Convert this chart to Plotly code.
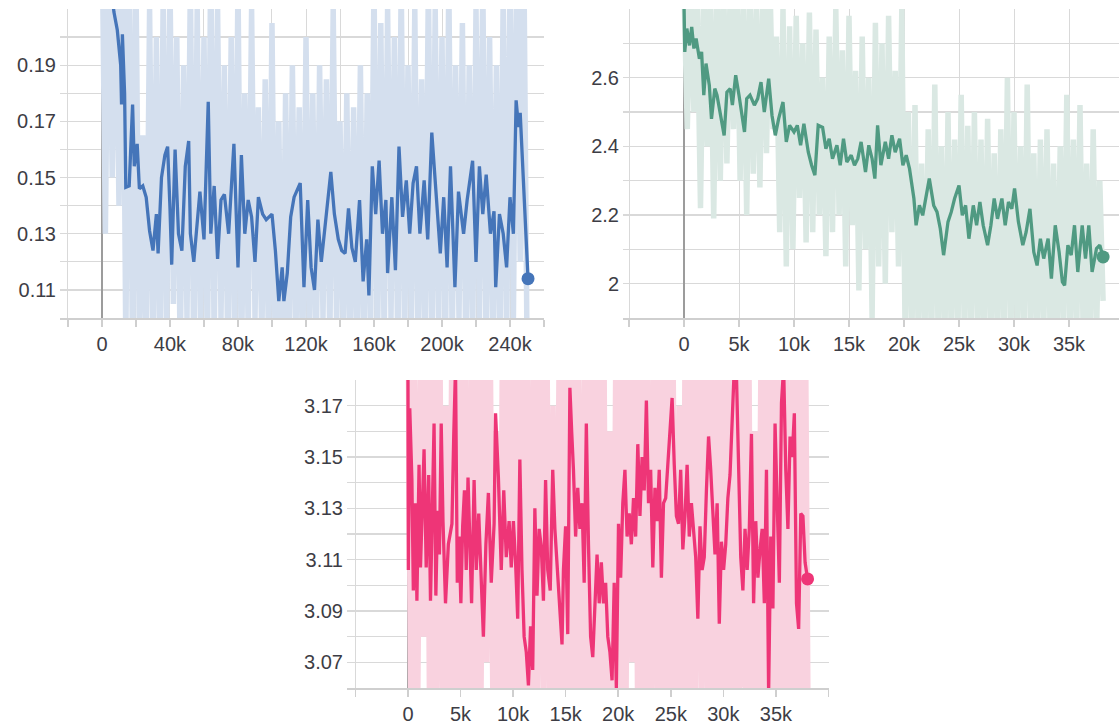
import plotly.graph_objects as go

# ---------------- Top-left (blue) ----------------
tl_raw_steps = [0, 2000, 4000, 6000, 8000, 10000, 12000, 14000, 16000, 18000,
                20000, 22000, 24000, 26000, 28000, 30000, 32000, 34000, 36000, 38000,
                40000, 42000, 44000, 46000, 48000, 50000, 52000, 54000, 56000, 58000,
                60000, 62000, 64000, 66000, 68000, 70000, 72000, 74000, 76000, 78000,
                80000, 82000, 84000, 86000, 88000, 90000, 92000, 94000, 96000, 98000,
                100000, 102000, 104000, 106000, 108000, 110000, 112000, 114000, 116000, 118000,
                120000, 122000, 124000, 126000, 128000, 130000, 132000, 134000, 136000, 138000,
                140000, 142000, 144000, 146000, 148000, 150000, 152000, 154000, 156000, 158000,
                160000, 162000, 164000, 166000, 168000, 170000, 172000, 174000, 176000, 178000,
                180000, 182000, 184000, 186000, 188000, 190000, 192000, 194000, 196000, 198000,
                200000, 202000, 204000, 206000, 208000, 210000, 212000, 214000, 216000, 218000,
                220000, 222000, 224000, 226000, 228000, 230000, 232000, 234000, 236000, 238000,
                240000, 242000, 244000, 246000, 248000, 250000, 252000]
tl_raw_values = [0.24, 0.13, 0.25, 0.15, 0.23, 0.14, 0.26, 0.09, 0.24, 0.08,
                 0.22, 0.09, 0.165, 0.085, 0.21, 0.09, 0.20, 0.08, 0.215, 0.09,
                 0.22, 0.105, 0.20, 0.085, 0.19, 0.10, 0.22, 0.08, 0.21, 0.095,
                 0.20, 0.085, 0.23, 0.09, 0.21, 0.10, 0.19, 0.085, 0.20, 0.09,
                 0.22, 0.08, 0.18, 0.095, 0.21, 0.10, 0.175, 0.09, 0.185, 0.085,
                 0.205, 0.08, 0.17, 0.075, 0.18, 0.085, 0.19, 0.09, 0.175, 0.08,
                 0.20, 0.09, 0.18, 0.085, 0.19, 0.10, 0.185, 0.09, 0.21, 0.095,
                 0.17, 0.09, 0.18, 0.085, 0.175, 0.09, 0.19, 0.08, 0.18, 0.095,
                 0.22, 0.085, 0.205, 0.09, 0.21, 0.10, 0.20, 0.085, 0.22, 0.09,
                 0.19, 0.095, 0.21, 0.085, 0.185, 0.09, 0.22, 0.08, 0.21, 0.095,
                 0.20, 0.085, 0.22, 0.09, 0.19, 0.10, 0.205, 0.085, 0.19, 0.09,
                 0.21, 0.095, 0.22, 0.085, 0.20, 0.09, 0.19, 0.085, 0.215, 0.09,
                 0.22, 0.10, 0.23, 0.12, 0.24, 0.09, 0.095]
tl_steps = [0, 4000, 7000, 9000, 10000, 11000, 11500, 12000, 13300, 14000,
            16000, 18000, 19000, 20700, 22000, 24000, 26000, 28000, 30000, 32000,
            33000, 35000, 37000, 38600, 40000, 41000, 43000, 45000, 47000, 49000,
            51000, 52000, 54000, 57600, 60000, 62500, 64000, 66000, 68000, 70000,
            72000, 74500, 77600, 80000, 82000, 84000, 86000, 88000, 90000, 92000,
            94500, 96600, 100000, 102000, 104000, 106000, 107000, 109000, 111000, 113000,
            116600, 118800, 121000, 123000, 125000, 127000, 129000, 131000, 134600, 136700,
            139000, 141000, 143000, 145000, 147000, 149000, 151500, 153600, 155700, 157000,
            159000, 161000, 163000, 165000, 167000, 168000, 170500, 172600, 174700, 176800,
            179000, 181000, 183000, 185000, 187000, 189500, 191600, 194000, 197000, 199000,
            201000, 203000, 205000, 207600, 209700, 212700, 214800, 218000, 220000, 222000,
            224000, 226000, 228500, 230600, 231600, 233800, 236000, 238000, 240000, 242000,
            243600, 245000, 246000, 247600, 250600]
tl_values = [0.25, 0.228, 0.209, 0.2025, 0.195, 0.19, 0.176, 0.201, 0.18, 0.1465,
             0.147, 0.176, 0.154, 0.162, 0.146, 0.147, 0.143, 0.131, 0.124, 0.137,
             0.123, 0.15, 0.158, 0.161, 0.139, 0.119, 0.16, 0.13, 0.124, 0.154,
             0.163, 0.13, 0.12, 0.145, 0.128, 0.177, 0.13, 0.147, 0.121, 0.142,
             0.144, 0.13, 0.162, 0.118, 0.158, 0.13, 0.142, 0.136, 0.12, 0.143,
             0.137, 0.135, 0.137, 0.124, 0.106, 0.118, 0.106, 0.116, 0.136, 0.143,
             0.148, 0.111, 0.142, 0.118, 0.11, 0.135, 0.12, 0.131, 0.152, 0.137,
             0.128, 0.124, 0.123, 0.139, 0.125, 0.12, 0.142, 0.113, 0.128, 0.108,
             0.154, 0.137, 0.156, 0.13, 0.142, 0.116, 0.143, 0.117, 0.161, 0.136,
             0.149, 0.13, 0.148, 0.154, 0.13, 0.149, 0.128, 0.166, 0.139, 0.123,
             0.143, 0.118, 0.154, 0.111, 0.145, 0.13, 0.142, 0.156, 0.12, 0.154,
             0.137, 0.151, 0.13, 0.138, 0.111, 0.137, 0.13, 0.118, 0.143, 0.13,
             0.1775, 0.168, 0.173, 0.154, 0.114]

# ---------------- Top-right (green) and bottom (pink) raw steps ----------------
raw_steps_38k = [0, 300, 600, 900, 1200, 1500, 1800, 2100, 2400, 2700,
                 3000, 3300, 3600, 3900, 4200, 4500, 4800, 5100, 5400, 5700,
                 6000, 6300, 6600, 6900, 7200, 7500, 7800, 8100, 8400, 8700,
                 9000, 9300, 9600, 9900, 10200, 10500, 10800, 11100, 11400, 11700,
                 12000, 12300, 12600, 12900, 13200, 13500, 13800, 14100, 14400, 14700,
                 15000, 15300, 15600, 15900, 16200, 16500, 16800, 17100, 17400, 17700,
                 18000, 18300, 18600, 18900, 19200, 19500, 19800, 20100, 20400, 20700,
                 21000, 21300, 21600, 21900, 22200, 22500, 22800, 23100, 23400, 23700,
                 24000, 24300, 24600, 24900, 25200, 25500, 25800, 26100, 26400, 26700,
                 27000, 27300, 27600, 27900, 28200, 28500, 28800, 29100, 29400, 29700,
                 30000, 30300, 30600, 30900, 31200, 31500, 31800, 32100, 32400, 32700,
                 33000, 33300, 33600, 33900, 34200, 34500, 34800, 35100, 35400, 35700,
                 36000, 36300, 36600, 36900, 37200, 37500, 37800, 38100]

tr_raw_values = [2.85, 2.45, 2.9, 2.5, 2.82, 2.22, 2.9, 2.4, 2.85, 2.19,
                 2.9, 2.3, 2.88, 2.35, 2.85, 2.45, 2.9, 2.3, 2.85, 2.2,
                 2.9, 2.32, 2.82, 2.28, 2.88, 2.38, 2.9, 2.45, 2.72, 2.15,
                 2.8, 2.05, 2.75, 2.1, 2.78, 2.25, 2.7, 2.12, 2.79, 2.15,
                 2.74, 2.2, 2.6, 2.08, 2.72, 2.15, 2.8, 2.2, 2.68, 2.05,
                 2.78, 2.17, 2.62, 1.98, 2.72, 2.1, 2.6, 1.9, 2.76, 2.05,
                 2.7, 2.0, 2.78, 2.15, 2.62, 2.05, 2.8, 1.85, 2.5, 1.8,
                 2.52, 1.82, 2.35, 1.85, 2.45, 1.78, 2.58, 1.85, 2.4, 1.8,
                 2.5, 1.82, 2.42, 1.85, 2.55, 1.8, 2.46, 1.85, 2.5, 1.82,
                 2.42, 1.8, 2.48, 1.85, 2.38, 1.8, 2.45, 1.85, 2.6, 1.8,
                 2.5, 1.86, 2.4, 1.8, 2.58, 1.85, 2.38, 1.8, 2.42, 1.85,
                 2.45, 1.82, 2.35, 1.8, 2.4, 1.85, 2.55, 1.8, 2.42, 1.85,
                 2.52, 1.82, 2.35, 1.8, 2.45, 1.85, 2.3, 1.95]
tr_steps = [0, 70, 260, 500, 700, 900, 1100, 1400, 1600, 1800,
            2000, 2300, 2500, 2800, 3000, 3300, 3650, 3900, 4200, 4400,
            4700, 5000, 5300, 5500, 5700, 6000, 6400, 6700, 7000, 7300,
            7700, 8000, 8300, 8600, 9000, 9300, 9600, 10000, 10300, 10600,
            10900, 11300, 11600, 11900, 12200, 12600, 12900, 13200, 13500, 13900,
            14200, 14500, 14800, 15200, 15500, 15800, 16100, 16500, 16800, 17100,
            17350, 17600, 17900, 18300, 18600, 18900, 19200, 19600, 19900, 20200,
            20500, 20900, 21100, 21400, 21700, 22000, 22300, 22700, 23000, 23300,
            23600, 24000, 24300, 24600, 25000, 25300, 25600, 25900, 26300, 26600,
            26900, 27200, 27600, 27900, 28200, 28500, 28900, 29200, 29500, 29800,
            30050, 30400, 30800, 31100, 31450, 31800, 32100, 32400, 32700, 33100,
            33400, 33750, 34100, 34400, 34600, 34900, 35200, 35500, 35800, 36200,
            36500, 36800, 37100, 37500, 37800, 38100]
tr_values = [2.82, 2.675, 2.743, 2.694, 2.748, 2.685, 2.714, 2.655, 2.675, 2.549,
             2.641, 2.578, 2.48, 2.568, 2.549, 2.49, 2.432, 2.558, 2.568, 2.52,
             2.607, 2.549, 2.49, 2.442, 2.539, 2.549, 2.52, 2.539, 2.587, 2.5,
             2.597, 2.49, 2.432, 2.48, 2.529, 2.413, 2.461, 2.442, 2.461, 2.403,
             2.466, 2.383, 2.345, 2.316, 2.461, 2.455, 2.393, 2.422, 2.364, 2.403,
             2.345, 2.422, 2.354, 2.374, 2.345, 2.364, 2.413, 2.325, 2.403, 2.364,
             2.306, 2.461, 2.345, 2.413, 2.364, 2.432, 2.383, 2.422, 2.345, 2.374,
             2.335, 2.248, 2.17, 2.228, 2.199, 2.248, 2.306, 2.228, 2.209, 2.16,
             2.083, 2.18, 2.209, 2.248, 2.286, 2.199, 2.228, 2.131, 2.228, 2.17,
             2.238, 2.17, 2.112, 2.17, 2.248, 2.189, 2.248, 2.17, 2.238, 2.218,
             2.277, 2.18, 2.112, 2.15, 2.218, 2.092, 2.053, 2.131, 2.073, 2.131,
             2.015, 2.17, 2.092, 2.005, 1.995, 2.112, 2.083, 2.17, 2.034, 2.17,
             2.073, 2.17, 2.034, 2.102, 2.112, 2.078]

# ---------------- Bottom (pink) ----------------
b_raw_values = [3.21, 3.03, 3.2, 3.04, 3.19, 3.08, 3.21, 3.02, 3.2, 3.05,
                3.22, 3.03, 3.17, 3.04, 3.21, 3.03, 3.2, 3.05, 3.21, 3.02,
                3.19, 3.04, 3.22, 3.03, 3.2, 3.07, 3.21, 3.04, 3.16, 3.03,
                3.2, 3.02, 3.21, 3.05, 3.2, 3.03, 3.22, 3.04, 3.19, 3.02,
                3.21, 3.03, 3.2, 3.06, 3.21, 3.02, 3.17, 3.04, 3.2, 3.03,
                3.22, 3.02, 3.21, 3.04, 3.2, 3.03, 3.19, 3.05, 3.21, 3.02,
                3.2, 3.04, 3.22, 3.03, 3.16, 3.02, 3.21, 3.04, 3.2, 3.03,
                3.21, 3.07, 3.2, 3.02, 3.22, 3.04, 3.19, 3.03, 3.21, 3.05,
                3.2, 3.02, 3.21, 3.04, 3.2, 3.03, 3.17, 3.02, 3.22, 3.04,
                3.2, 3.03, 3.21, 3.06, 3.2, 3.02, 3.21, 3.04, 3.19, 3.03,
                3.22, 3.02, 3.2, 3.04, 3.21, 3.03, 3.2, 3.05, 3.21, 3.02,
                3.16, 3.04, 3.2, 3.03, 3.22, 3.02, 3.21, 3.04, 3.2, 3.03,
                3.19, 3.02, 3.21, 3.04, 3.2, 3.03, 3.21, 3.02]
b_steps = [0, 34, 170, 374, 510, 714, 850, 1054, 1190, 1394,
           1530, 1734, 1972, 2142, 2312, 2482, 2652, 2822, 2992, 3162,
           3332, 3570, 3842, 4182, 4352, 4522, 4692, 4862, 5032, 5202,
           5372, 5542, 5712, 5882, 6052, 6290, 6494, 6732, 6970, 7174,
           7412, 7650, 7922, 8194, 8330, 8602, 8874, 9112, 9350, 9622,
           9826, 10030, 10234, 10438, 10642, 10846, 11050, 11254, 11458, 11662,
           11866, 12070, 12274, 12478, 12682, 12886, 13090, 13294, 13532, 13770,
           13974, 14212, 14450, 14654, 14790, 14994, 15198, 15402, 15572, 15742,
           15946, 16150, 16354, 16558, 16762, 16966, 17170, 17374, 17578, 17782,
           17986, 18190, 18394, 18598, 18802, 19006, 19210, 19414, 19618, 19822,
           20026, 20230, 20434, 20638, 20842, 21046, 21250, 21454, 21658, 21862,
           22066, 22270, 22474, 22678, 22882, 23086, 23290, 23494, 23698, 23902,
           24106, 24310, 24514, 24718, 24922, 25126, 25330, 25534, 25738, 25942,
           26146, 26350, 26554, 26758, 26962, 27166, 27370, 27574, 27778, 27982,
           28186, 28390, 28594, 28798, 29002, 29206, 29410, 29614, 29818, 30022,
           30226, 30430, 30634, 30838, 31042, 31246, 31450, 31654, 31858, 32062,
           32266, 32470, 32674, 32878, 33082, 33286, 33490, 33694, 33898, 34102,
           34306, 34510, 34714, 34918, 35122, 35326, 35530, 35734, 35938, 36142,
           36346, 36550, 36754, 36958, 37162, 37366, 37570, 37774, 38012]
b_values = [3.185, 3.106, 3.169, 3.141, 3.098, 3.132, 3.094, 3.147, 3.107, 3.141,
            3.153, 3.107, 3.143, 3.094, 3.132, 3.163, 3.096, 3.129, 3.112, 3.163,
            3.125, 3.093, 3.116, 3.124, 3.158, 3.185, 3.101, 3.119, 3.093, 3.123,
            3.137, 3.106, 3.142, 3.119, 3.093, 3.141, 3.106, 3.128, 3.098, 3.08,
            3.116, 3.136, 3.101, 3.124, 3.167, 3.142, 3.106, 3.137, 3.111, 3.125,
            3.107, 3.125, 3.109, 3.087, 3.149, 3.106, 3.08, 3.074, 3.061, 3.084,
            3.067, 3.13, 3.096, 3.122, 3.115, 3.094, 3.141, 3.106, 3.098, 3.145,
            3.122, 3.106, 3.093, 3.077, 3.106, 3.123, 3.081, 3.177, 3.16, 3.145,
            3.119, 3.138, 3.122, 3.132, 3.101, 3.163, 3.116, 3.08, 3.072, 3.093,
            3.112, 3.093, 3.109, 3.093, 3.101, 3.08, 3.074, 3.063, 3.101, 3.06,
            3.124, 3.103, 3.132, 3.145, 3.119, 3.128, 3.116, 3.134, 3.119, 3.155,
            3.127, 3.15, 3.137, 3.172, 3.132, 3.145, 3.107, 3.138, 3.125, 3.145,
            3.103, 3.132, 3.134, 3.147, 3.158, 3.173, 3.147, 3.127, 3.124, 3.145,
            3.114, 3.127, 3.147, 3.119, 3.132, 3.122, 3.111, 3.087, 3.123, 3.106,
            3.111, 3.137, 3.158, 3.145, 3.127, 3.112, 3.132, 3.085, 3.117, 3.106,
            3.116, 3.134, 3.143, 3.164, 3.185, 3.182, 3.145, 3.111, 3.098, 3.122,
            3.106, 3.122, 3.159, 3.093, 3.125, 3.103, 3.114, 3.122, 3.093, 3.145,
            3.058, 3.119, 3.091, 3.163, 3.132, 3.101, 3.171, 3.185, 3.145, 3.122,
            3.158, 3.15, 3.167, 3.093, 3.083, 3.128, 3.127, 3.109, 3.1025]

# ---------------- tick definitions ----------------
tl_xtick_vals = [-20000, 0, 20000, 40000, 60000, 80000, 100000, 120000, 140000,
                 160000, 180000, 200000, 220000, 240000, 260000]
tl_xtick_text = ["", "0", "", "40k", "", "80k", "", "120k", "", "160k", "", "200k", "", "240k", ""]
tl_ytick_vals = [0.10, 0.11, 0.12, 0.13, 0.14, 0.15, 0.16, 0.17, 0.18, 0.19, 0.20, 0.21]
tl_ytick_text = ["", "0.11", "", "0.13", "", "0.15", "", "0.17", "", "0.19", "", ""]

k_xtick_vals = [-5000, 0, 5000, 10000, 15000, 20000, 25000, 30000, 35000, 40000]
k_xtick_text = ["", "0", "5k", "10k", "15k", "20k", "25k", "30k", "35k", ""]

tr_ytick_vals = [1.9, 2.0, 2.1, 2.2, 2.3, 2.4, 2.5, 2.6, 2.7, 2.8]
tr_ytick_text = ["", "2", "", "2.2", "", "2.4", "", "2.6", "", ""]

b_ytick_vals = [3.06, 3.07, 3.08, 3.09, 3.10, 3.11, 3.12, 3.13, 3.14, 3.15, 3.16, 3.17, 3.18]
b_ytick_text = ["", "3.07", "", "3.09", "", "3.11", "", "3.13", "", "3.15", "", "3.17", ""]

# ---------------- colours ----------------
BLUE, BLUE_RAW = "#4575b9", "#d4dfee"
GREEN, GREEN_RAW = "#509a82", "#dae8e3"
PINK, PINK_RAW = "#ee3577", "#f9d2df"

W, H = 1119, 727

fig = go.Figure()


def add_panel(xa, ya, raw_x, raw_y, sx, sy, col, raw_col):
    fig.add_trace(go.Scatter(x=raw_x, y=raw_y, mode="lines",
                             line=dict(color=raw_col, width=5.5),
                             xaxis=xa, yaxis=ya, hoverinfo="skip"))
    fig.add_trace(go.Scatter(x=sx, y=sy, mode="lines",
                             line=dict(color=col, width=3.3),
                             xaxis=xa, yaxis=ya))
    fig.add_trace(go.Scatter(x=[sx[-1]], y=[sy[-1]], mode="markers",
                             marker=dict(color=col, size=13),
                             cliponaxis=False, xaxis=xa, yaxis=ya))


add_panel("x", "y", tl_raw_steps, tl_raw_values, tl_steps, tl_values, BLUE, BLUE_RAW)
add_panel("x2", "y2", raw_steps_38k, tr_raw_values, tr_steps, tr_values, GREEN, GREEN_RAW)
add_panel("x3", "y3", raw_steps_38k, b_raw_values, b_steps, b_values, PINK, PINK_RAW)

tick_font = dict(family="Arial, Liberation Sans, sans-serif", size=20, color="#3d3d45")
GRID = "#d9d9d9"


def xaxis(domain, rng, vals, text, anchor):
    return dict(domain=domain, range=rng, tickvals=vals, ticktext=text,
                showgrid=True, gridcolor=GRID, gridwidth=1,
                zeroline=True, zerolinecolor="#9c9c9c", zerolinewidth=1.6,
                showline=True, linecolor="#cfcfcf", linewidth=1.5,
                ticks="outside", ticklen=7, tickcolor="#cfcfcf", tickwidth=1.5,
                tickfont=tick_font, anchor=anchor, fixedrange=True)


def yaxis(domain, rng, vals, text, anchor):
    return dict(domain=domain, range=rng, tickvals=vals, ticktext=text,
                showgrid=True, gridcolor=GRID, gridwidth=1.2,
                zeroline=False, showline=False, ticks="",
                ticklabelstandoff=3,
                tickfont=tick_font, anchor=anchor, fixedrange=True)


top_dom = [1 - 318 / H, 1 - 9 / H]
bot_dom = [1 - 688 / H, 1 - 380 / H]

fig.update_layout(
    width=W, height=H, autosize=False,
    margin=dict(l=0, r=0, t=0, b=0),
    paper_bgcolor="white", plot_bgcolor="white",
    showlegend=False,
    xaxis=xaxis([60 / W, 544 / W], [-24700, 260000], tl_xtick_vals, tl_xtick_text, "y"),
    yaxis=yaxis(top_dom, [0.10, 0.21], tl_ytick_vals, tl_ytick_text, "x"),
    xaxis2=xaxis([623 / W, 1.0], [-5545, 39545], k_xtick_vals, k_xtick_text, "y2"),
    yaxis2=yaxis(top_dom, [1.9, 2.8], tr_ytick_vals, tr_ytick_text, "x2"),
    xaxis3=xaxis([347 / W, 829 / W], [-5800, 40050], k_xtick_vals, k_xtick_text, "y3"),
    yaxis3=yaxis(bot_dom, [3.06, 3.18], b_ytick_vals, b_ytick_text, "x3"),
)

fig.write_html("out.html",
               config={"displayModeBar": False, "staticPlot": True},
               post_script="document.body.style.margin='0px';document.body.style.overflow='hidden';")
